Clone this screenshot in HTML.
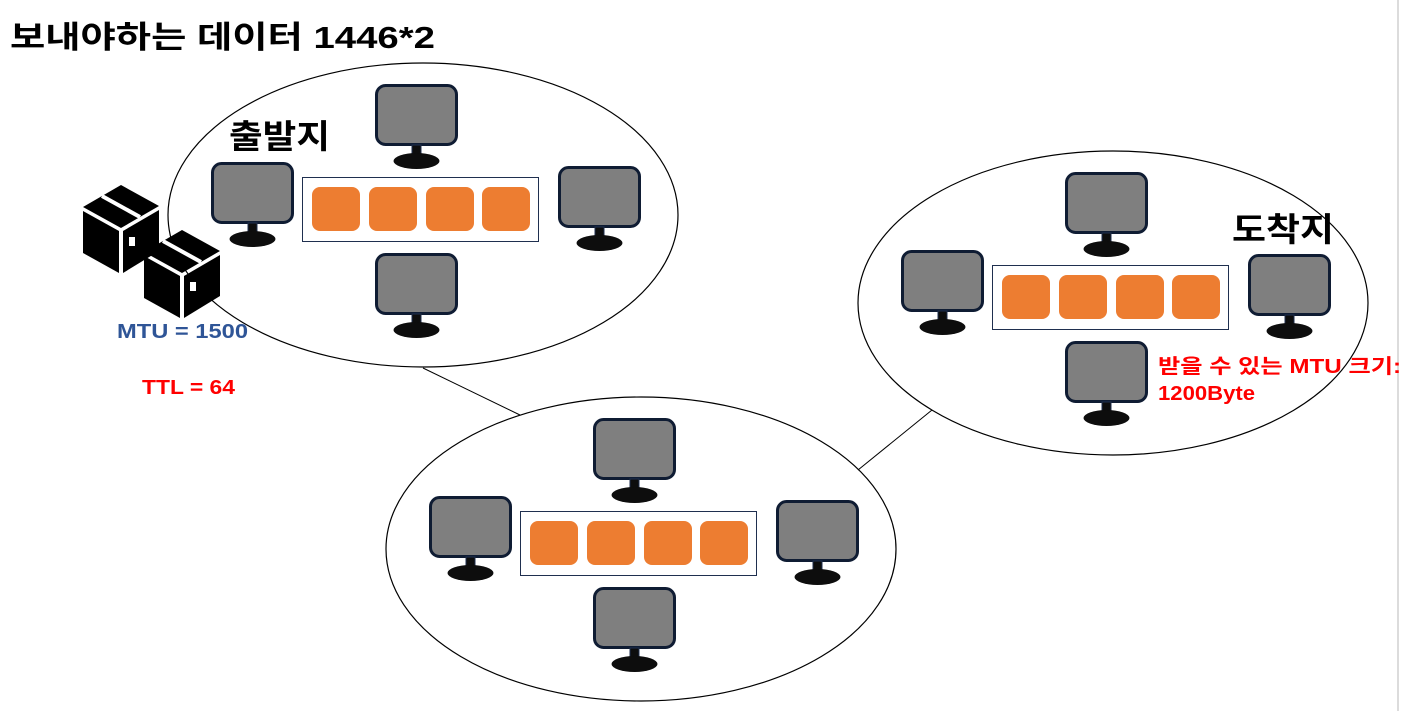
<!DOCTYPE html>
<html><head><meta charset="utf-8"><style>
html,body{margin:0;padding:0;background:#fff;}
svg{display:block;}
text{font-family:"Liberation Sans","Noto Sans CJK KR",sans-serif;font-weight:bold;}
</style></head><body>
<svg width="1401" height="711" viewBox="0 0 1401 711" xmlns="http://www.w3.org/2000/svg">
<defs>
<g id="mon">
<rect x="1.5" y="1.5" width="80" height="59" rx="9" fill="#7f7f7f" stroke="#0f1c33" stroke-width="3"/>
<rect x="37" y="61" width="9" height="11" fill="#0d0d0d" stroke="#1f2f4f" stroke-width="1"/>
<ellipse cx="41.5" cy="77" rx="23" ry="8" fill="#0d0d0d"/>
</g>
<g id="cl">
<ellipse cx="423" cy="215" rx="255" ry="152" fill="none" stroke="#000" stroke-width="1.2"/>
<use href="#mon" x="375" y="84"/>
<use href="#mon" x="211" y="162"/>
<use href="#mon" x="558" y="166"/>
<use href="#mon" x="375" y="253"/>
<rect x="302.5" y="177.5" width="236" height="64" fill="#fff" stroke="#1f2f4f" stroke-width="1"/>
<rect x="312" y="187" width="48" height="44" rx="8" fill="#ed7d31"/>
<rect x="369" y="187" width="48" height="44" rx="8" fill="#ed7d31"/>
<rect x="426" y="187" width="48" height="44" rx="8" fill="#ed7d31"/>
<rect x="482" y="187" width="48" height="44" rx="8" fill="#ed7d31"/>
</g>
<g id="box">
<polygon points="38,0 76,21 38,43 0,22" fill="#000"/>
<polygon points="0,26 36,46 36,88 0,68" fill="#000"/>
<polygon points="40,46 76,25 76,66 40,88" fill="#000"/>
<line x1="19" y1="11" x2="57" y2="32" stroke="#fff" stroke-width="4"/>
<rect x="46" y="52" width="6" height="9" fill="#fff"/>
</g>
</defs>
<line x1="1398" y1="0" x2="1398" y2="711" stroke="#d0d0d0" stroke-width="1.5"/>
<line x1="423" y1="368" x2="520" y2="415" stroke="#000" stroke-width="1"/>
<line x1="858" y1="470" x2="932" y2="410" stroke="#000" stroke-width="1"/>
<use href="#cl"/>
<use href="#cl" x="218" y="334"/>
<use href="#cl" x="690" y="88"/>
<use href="#box" x="83" y="185"/>
<use href="#box" x="144" y="230"/>
<text x="10" y="48" font-size="31" fill="#000" textLength="425" lengthAdjust="spacingAndGlyphs">보내야하는 데이터 1446*2</text>
<text x="229" y="148" font-size="33" fill="#000" textLength="101" lengthAdjust="spacingAndGlyphs">출발지</text>
<text x="1232" y="241" font-size="33" fill="#000" textLength="102" lengthAdjust="spacingAndGlyphs">도착지</text>
<text x="117" y="338" font-size="20" fill="#2f5597" textLength="131" lengthAdjust="spacingAndGlyphs">MTU = 1500</text>
<text x="142" y="394" font-size="20" fill="#ff0000" textLength="93" lengthAdjust="spacingAndGlyphs">TTL = 64</text>
<text x="1158" y="373" font-size="20" fill="#ff0000" textLength="243" lengthAdjust="spacingAndGlyphs">받을 수 있는 MTU 크기:</text>
<text x="1158" y="400" font-size="20" fill="#ff0000" textLength="97" lengthAdjust="spacingAndGlyphs">1200Byte</text>
</svg>
</body></html>
